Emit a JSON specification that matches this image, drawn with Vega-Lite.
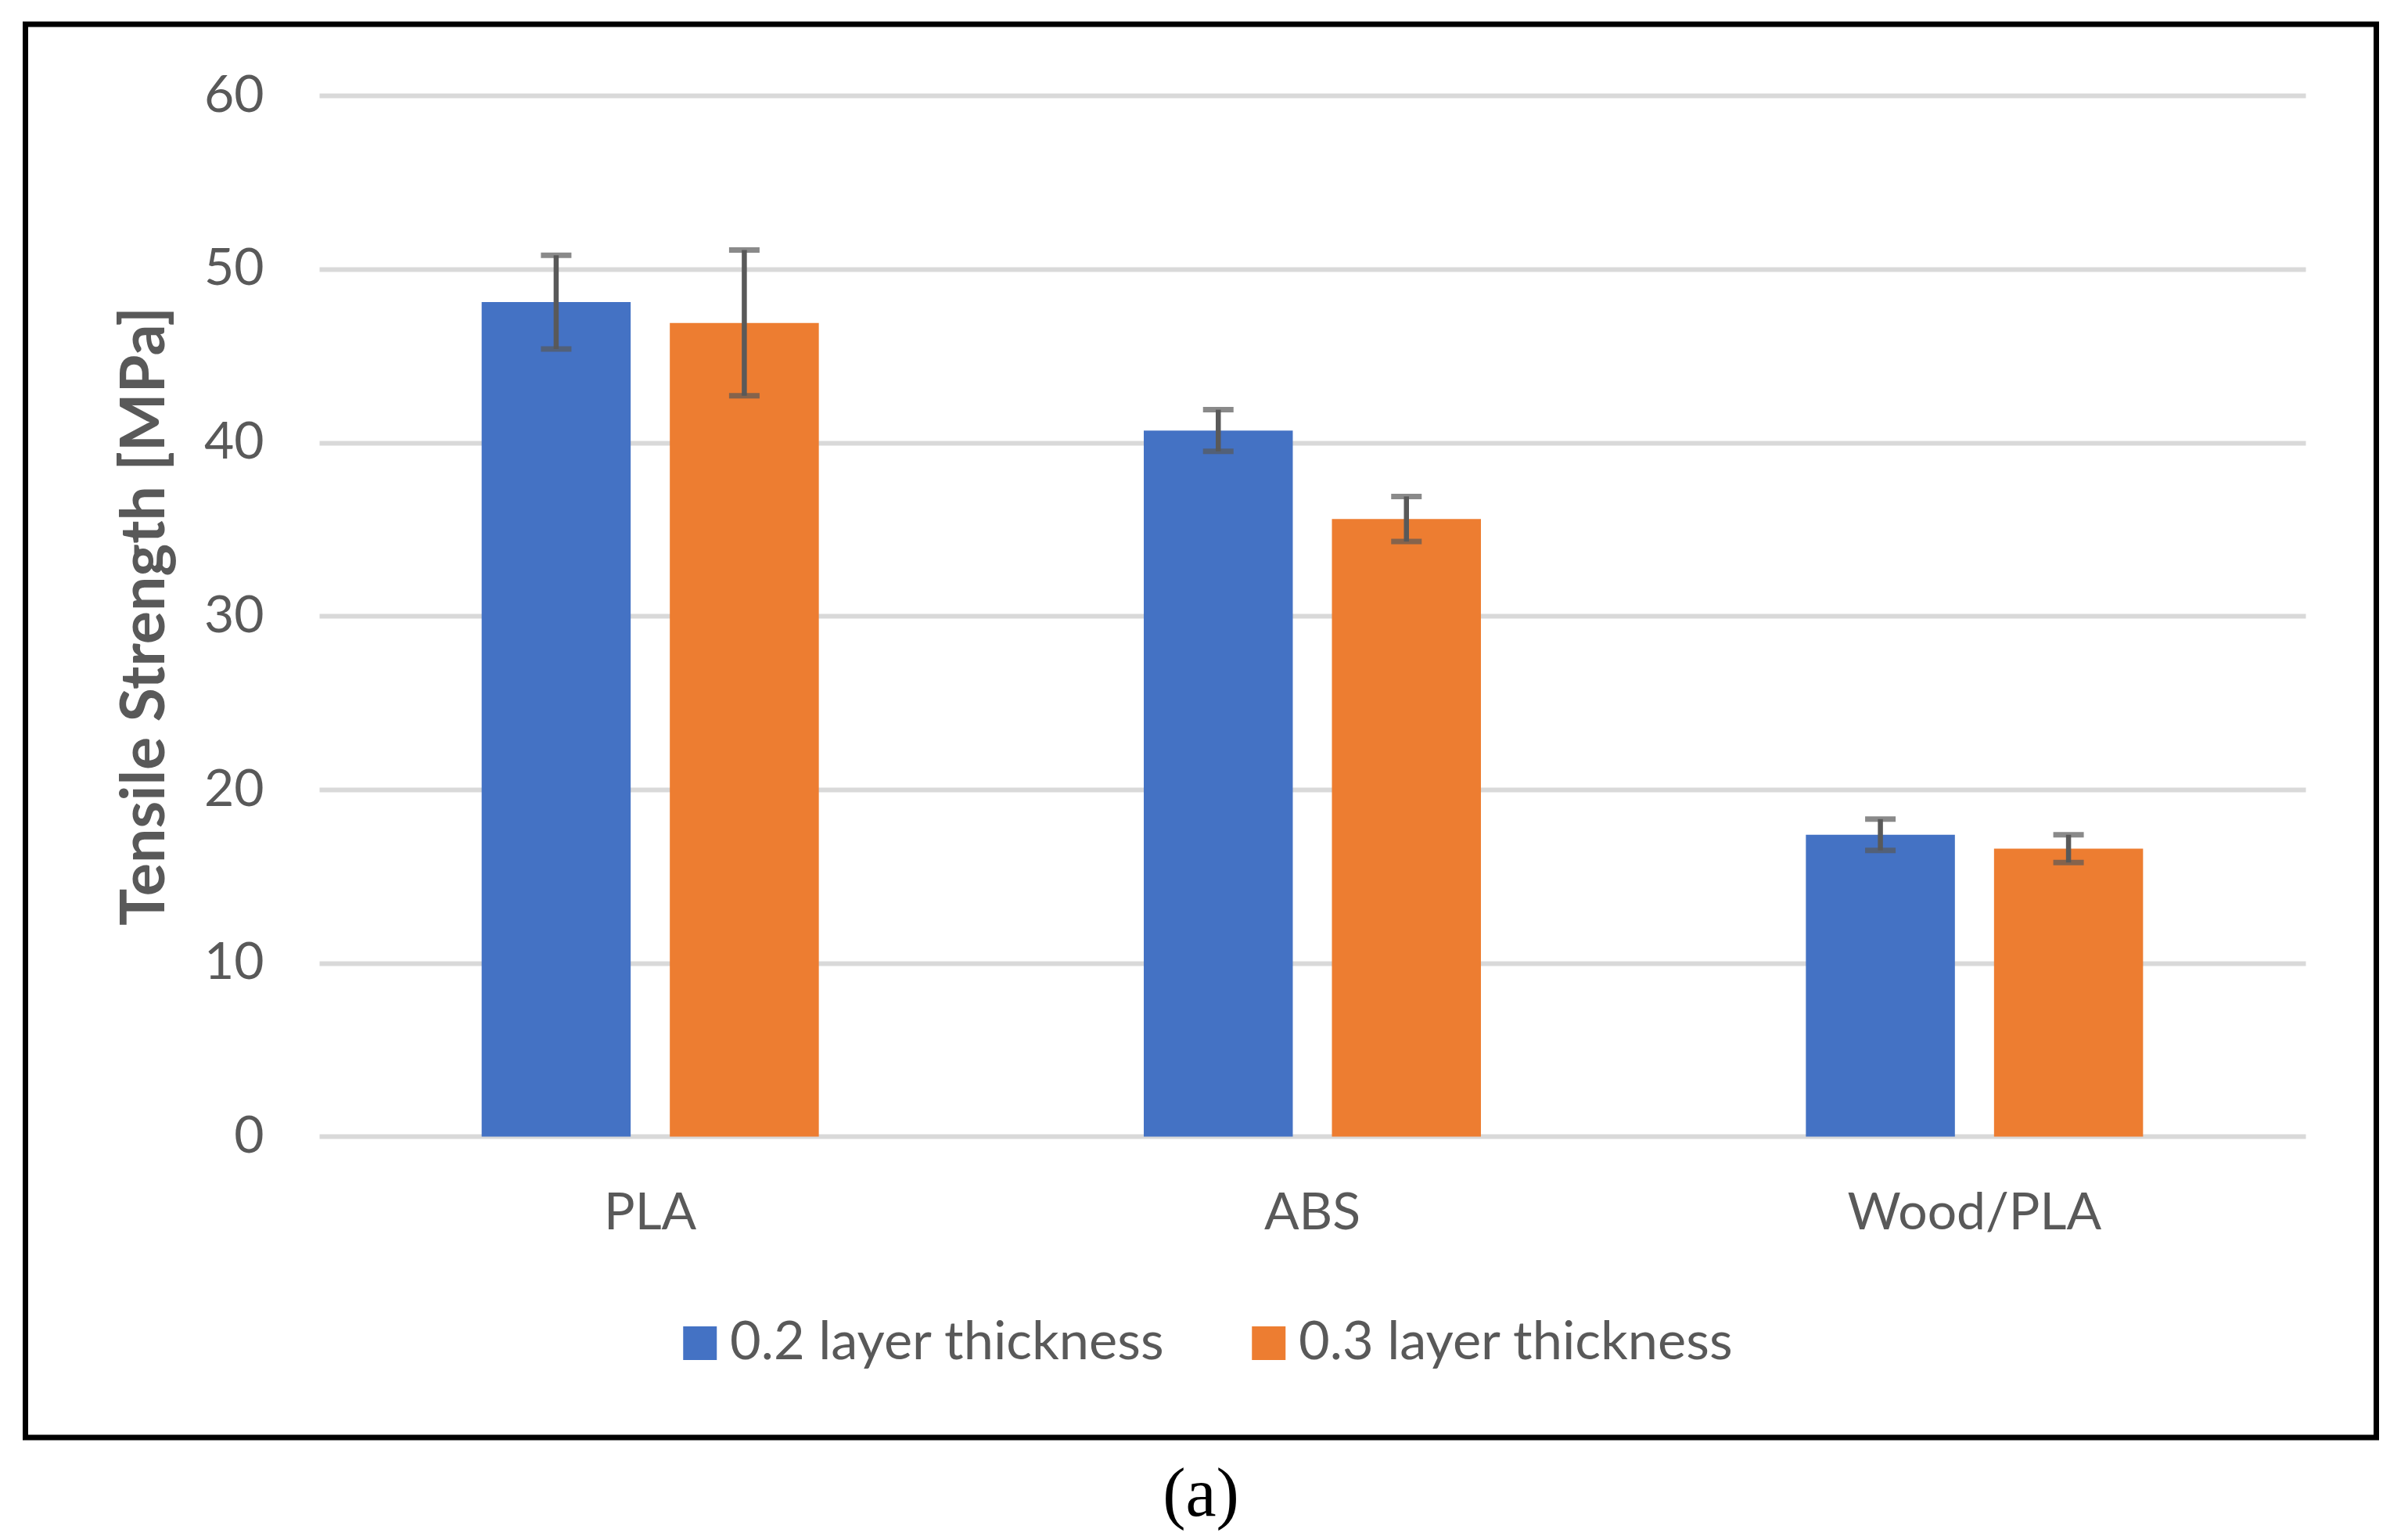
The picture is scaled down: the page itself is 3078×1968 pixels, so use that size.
{
  "$schema": "https://vega.github.io/schema/vega-lite/v6.json",
  "autosize": {"type": "none"},
  "width": 3005,
  "height": 1806,
  "padding": {"left": 32.5, "top": 31, "right": 40.5, "bottom": 131},
  "background": "white",
  "config": {
    "view": {"stroke": "#000000", "strokeWidth": 7},
    "font": "Lato"
  },
  "title": {
    "text": "(a)",
    "orient": "bottom",
    "anchor": "middle",
    "font": "Liberation Serif",
    "fontSize": 88,
    "fontWeight": "normal",
    "color": "#000000",
    "offset": 30
  },
  "data": {
    "values": [
      {"material": "PLA", "series": "0.2 layer thickness", "value": 48.1, "lo": 45.4, "hi": 50.8},
      {"material": "PLA", "series": "0.3 layer thickness", "value": 46.9, "lo": 42.7, "hi": 51.1},
      {"material": "ABS", "series": "0.2 layer thickness", "value": 40.7, "lo": 39.5, "hi": 41.9},
      {"material": "ABS", "series": "0.3 layer thickness", "value": 35.6, "lo": 34.3, "hi": 36.9},
      {"material": "Wood/PLA", "series": "0.2 layer thickness", "value": 17.4, "lo": 16.5, "hi": 18.3},
      {"material": "Wood/PLA", "series": "0.3 layer thickness", "value": 16.6, "lo": 15.8, "hi": 17.4}
    ]
  },
  "encoding": {
    "x": {
      "field": "material",
      "type": "nominal",
      "sort": ["PLA", "ABS", "Wood/PLA"],
      "scale": {"paddingInner": 0, "paddingOuter": 0.2753, "align": 0.8058},
      "axis": {
        "title": null,
        "orient": "bottom",
        "offset": -384.5,
        "domain": false,
        "ticks": false,
        "grid": false,
        "labelAngle": 0,
        "labelFont": "Lato",
        "labelFontSize": 66,
        "labelColor": "#595959",
        "labelLimit": 0,
        "labelPadding": 66
      }
    },
    "xOffset": {
      "field": "series",
      "type": "nominal",
      "scale": {"paddingInner": 0.208, "paddingOuter": 0.8635}
    }
  },
  "layer": [
    {
      "mark": {"type": "bar"},
      "encoding": {
        "y": {
          "field": "value",
          "type": "quantitative",
          "scale": {"domain": [-17.344, 64.118], "nice": false, "zero": false},
          "axis": {
            "orient": "left",
            "offset": -375.5,
            "values": [0, 10, 20, 30, 40, 50, 60],
            "grid": false,
            "domain": false,
            "tickSize": -2539,
            "tickWidth": 6,
            "tickColor": "#d9d9d9",
            "tickCap": "butt",
            "labelPadding": 2610,
            "labelFont": "Lato",
            "labelFontSize": 66,
            "labelColor": "#595959",
            "title": "Tensile Strength [MPa]",
            "titleFont": "Lato",
            "titleFontSize": 79,
            "titleFontWeight": "bold",
            "titleColor": "#595959",
            "titlePadding": 34,
            "titleY": 756
          }
        },
        "y2": {"datum": 0},
        "color": {
          "field": "series",
          "type": "nominal",
          "scale": {"domain": ["0.2 layer thickness", "0.3 layer thickness"], "range": ["#4472C4", "#ED7D31"]},
          "legend": {
            "title": null,
            "orient": "none",
            "direction": "horizontal",
            "legendX": 828,
            "legendY": 1651,
            "symbolType": "square",
            "symbolSize": 1849,
            "symbolStrokeWidth": 0,
            "labelFont": "Lato",
            "labelFontSize": 68.5,
            "labelColor": "#595959",
            "labelLimit": 0,
            "labelOffset": 4,
            "columnPadding": 98,
            "padding": 0
          }
        }
      }
    },
    {
      "mark": {"type": "rule", "color": "#595959", "strokeWidth": 6.5},
      "encoding": {
        "y": {"field": "lo", "type": "quantitative"},
        "y2": {"field": "hi"}
      }
    },
    {
      "mark": {"type": "tick", "color": "#595959", "size": 39, "thickness": 7, "orient": "horizontal"},
      "encoding": {
        "y": {"field": "lo", "type": "quantitative"}
      }
    },
    {
      "mark": {"type": "tick", "color": "#595959", "size": 39, "thickness": 7, "orient": "horizontal"},
      "encoding": {
        "y": {"field": "hi", "type": "quantitative"}
      }
    }
  ]
}
